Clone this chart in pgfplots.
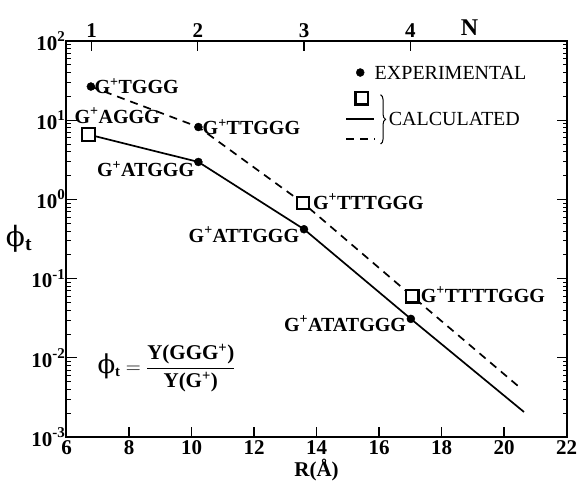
\documentclass[border=0pt]{standalone}
\usepackage{fontspec}
\setmainfont{Liberation Serif}
\newfontfamily\grk{DejaVu Serif}
\usepackage{pgfplots}
\pgfplotsset{compat=1.18}
\usetikzlibrary{decorations.pathreplacing}
\newcommand{\Gp}{G\textsuperscript{+}}
\newcommand{\lblfont}{\fontsize{20}{22}\selectfont\bfseries}
\newcommand{\ex}[1]{10\raisebox{0.42em}{\fontsize{15}{16}\selectfont #1}}
\begin{document}
\begin{tikzpicture}
\useasboundingbox (0,0) rectangle (580pt,487pt);
\begin{axis}[
  at={(66.5pt,50pt)}, anchor=south west,
  scale only axis, width=500pt, height=396pt,
  xmin=6, xmax=22, ymode=log, ymin=1e-3, ymax=1e2,
  xtick={6,8,...,22}, xtick pos=left,
  ytick={1e-3,1e-2,1e-1,1,10,100},
  yticklabels={\ex{-3},\ex{-2},\ex{-1},\ex{0},\ex{1},\ex{2}},
  ytick pos=both,
  tick align=inside,
  major tick length=10pt, minor tick length=4pt,
  axis line style={line width=2pt},
  major tick style={line width=1.3pt, black},
  minor tick style={line width=0.8pt, black},
  ticklabel style={font=\fontsize{21}{24}\selectfont\bfseries},
  yticklabel style={xshift=2pt},
  /pgf/number format/assume math mode=true,
  xlabel={R(Å)}, xlabel style={font=\fontsize{21}{24}\selectfont\bfseries, yshift=2pt},
  ylabel={{\grk ϕ}\textsubscript{\bfseries t}},
  ylabel style={rotate=-90, font=\fontsize{28}{30}\selectfont, at={(axis description cs:-0.095,0.5)}, anchor=center},
  clip=false,
]
% calculated, solid
\addplot[line width=1.7pt] coordinates {(6.7,6.6) (10.22,2.97) (13.6,0.42) (17.02,0.031) (20.64,0.00207)};
% calculated, dashed
\addplot[line width=1.7pt, dash pattern=on 8pt off 6pt] coordinates {(6.78,26.6) (10.22,8.2) (13.57,0.90) (17.06,0.060) (20.48,0.0043)};
% experimental
\addplot[only marks, mark=*, mark size=4pt] coordinates {(6.78,26.6) (10.22,8.2) (10.22,2.97) (13.6,0.42) (17.02,0.031)};
% calculated squares
\addplot[only marks, mark=square*, mark size=6.3pt, mark options={fill=white, draw=black, line width=2.2pt}] coordinates {(6.7,6.6) (13.57,0.90) (17.06,0.060)};
% legend symbols
\addplot[only marks, mark=*, mark size=4pt] coordinates {(15.4,40)};
\addplot[only marks, mark=square*, mark size=6.3pt, mark options={fill=white, draw=black, line width=2.2pt}] coordinates {(15.45,19)};
\addplot[line width=2pt] coordinates {(14.95,10.5) (15.85,10.5)};
\addplot[line width=2pt, dash pattern=on 8pt off 6pt] coordinates {(14.95,5.8) (15.85,5.8)};
\draw[decorate, decoration={brace, amplitude=5pt}, line width=1pt] (axis cs:16.05,21) -- (axis cs:16.05,5.0);
\node[anchor=west, font=\fontsize{20}{22}\selectfont] at (axis cs:15.75,40) {EXPERIMENTAL};
\node[anchor=west, font=\fontsize{20}{22}\selectfont] at (axis cs:16.2,10.3) {CALCULATED};
% point labels
\node[anchor=west, font=\lblfont, inner sep=1pt] at (axis cs:6.86,27) {\Gp TGGG};
\node[font=\lblfont, inner sep=1pt] at (axis cs:7.62,11.4) {\Gp AGGG};
\node[anchor=west, font=\lblfont, inner sep=1pt] at (axis cs:10.32,8.2) {\Gp TTGGG};
\node[anchor=east, font=\lblfont, inner sep=1pt] at (axis cs:10.12,2.4) {\Gp ATGGG};
\node[anchor=west, font=\lblfont, inner sep=1pt] at (axis cs:13.85,0.94) {\Gp TTTGGG};
\node[anchor=east, font=\lblfont, inner sep=1pt] at (axis cs:13.48,0.36) {\Gp ATTGGG};
\node[anchor=west, font=\lblfont, inner sep=1pt] at (axis cs:17.3,0.063) {\Gp TTTTGGG};
\node[anchor=east, font=\lblfont, inner sep=1pt] at (axis cs:16.9,0.027) {\Gp ATATGGG};
% formula
\node[font=\fontsize{21}{24}\selectfont] at (axis cs:9.2,0.0074) {{\fontsize{26}{26}\selectfont\grk ϕ}\textsubscript{\bfseries t} $=$ $\displaystyle\frac{\mbox{\bfseries Y(GGG\textsuperscript{+})}}{\mbox{\bfseries Y(G\textsuperscript{+})}}$};
\end{axis}
\begin{axis}[
  at={(66.5pt,50pt)}, anchor=south west,
  scale only axis, width=500pt, height=396pt,
  xmin=6, xmax=22, ymin=0, ymax=1,
  axis x line*=top, axis y line=none,
  xtick={6.8,10.2,13.6,17.0}, xticklabels={1,2,3,4},
  tick align=inside, major tick length=10pt,
  axis line style={line width=2pt},
  major tick style={line width=1.3pt, black},
  ticklabel style={font=\fontsize{21}{24}\selectfont\bfseries},
  /pgf/number format/assume math mode=true,
  clip=false,
]
\addplot[draw=none] coordinates {(6,0.5)};
\node[font=\fontsize{24}{26}\selectfont\bfseries, anchor=south] at (axis cs:18.9,1.005) {N};
\end{axis}
\end{tikzpicture}
\end{document}
